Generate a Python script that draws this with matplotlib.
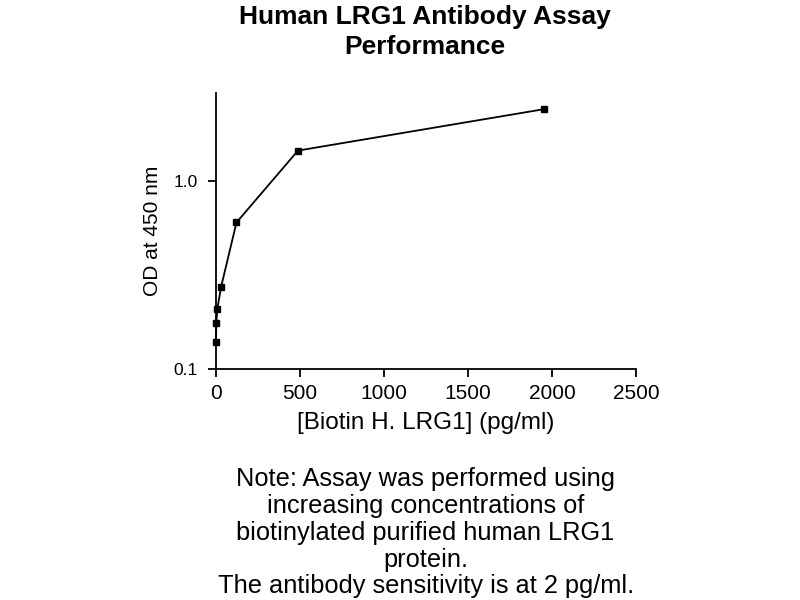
import matplotlib
matplotlib.use("Agg")
import matplotlib.pyplot as plt
from matplotlib.ticker import FixedLocator, FixedFormatter, NullLocator

plt.rcParams['font.family'] = ['Liberation Sans', 'DejaVu Sans']

conc = [0, 1.9, 7.6, 30.5, 122, 488, 1953]
od = [0.139, 0.175, 0.208, 0.274, 0.603, 1.456, 2.42]
x_ticks = [0, 500, 1000, 1500, 2000, 2500]
y_ticks = [0.1, 1.0]
y_tick_labels = ["0.1", "1.0"]

title = "Human LRG1 Antibody Assay\nPerformance"
xlabel = "[Biotin H. LRG1] (pg/ml)"
ylabel = "OD at 450 nm"
note = ("Note: Assay was performed using\nincreasing concentrations of\n"
        "biotinylated purified human LRG1\nprotein.\n"
        "The antibody sensitivity is at 2 pg/ml.")

fig = plt.figure(figsize=(8, 6), dpi=100)
ax = fig.add_axes([0.27, 0.385, 0.525, 0.46])
ax.plot(conc, od, color='black', lw=1.3, marker='s', ms=4.5, mfc='black', mec='black',
        clip_on=False)
ax.set_yscale('log')
ax.set_xlim(0, 2500)
ax.set_ylim(0.1, 2.95)
ax.xaxis.set_major_locator(FixedLocator(x_ticks))
ax.yaxis.set_major_locator(FixedLocator(y_ticks))
ax.yaxis.set_major_formatter(FixedFormatter(y_tick_labels))
ax.yaxis.set_minor_locator(NullLocator())
for s in ['top', 'right']:
    ax.spines[s].set_visible(False)
for s in ['left', 'bottom']:
    ax.spines[s].set_linewidth(1.3)
ax.tick_params(axis='both', direction='out', length=6, width=1.3, colors='black')
ax.tick_params(axis='x', pad=5, labelsize=15)
ax.tick_params(axis='y', pad=7, labelsize=12.5)
ax.set_xlabel(xlabel, fontsize=17.5, va='center')
ax.xaxis.set_label_coords(0.5, -0.196)
ax.set_ylabel(ylabel, fontsize=15, va='center')
ax.yaxis.set_label_coords(-0.150, 0.5)

fig.text(0.531, 0.947, title, ha='center', va='center', fontsize=19, fontweight='bold',
         linespacing=1.29)
fig.text(0.532, 0.112, note, ha='center', va='center', fontsize=18.3, linespacing=1.15)

fig.savefig("out.png", dpi=100)
